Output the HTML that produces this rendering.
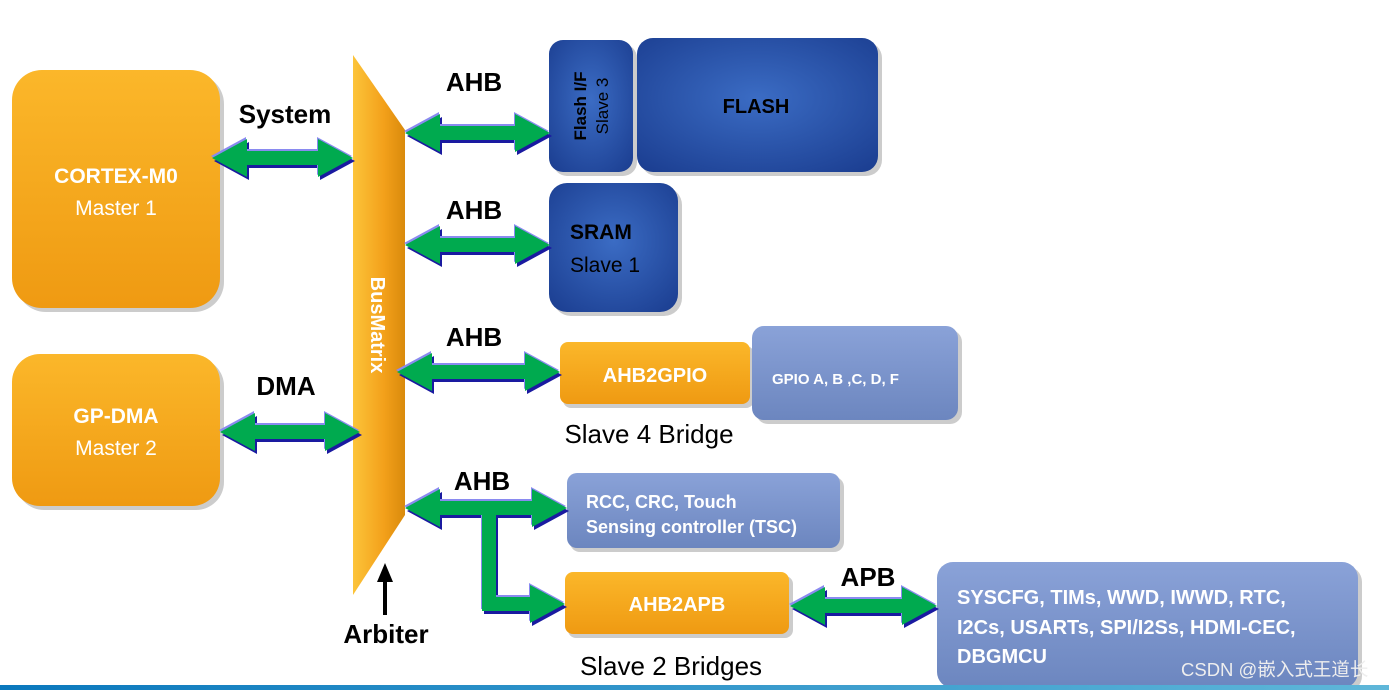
<!DOCTYPE html>
<html><head><meta charset="utf-8"><style>
body{margin:0;background:#fff;width:1389px;height:690px;overflow:hidden}
svg{display:block}
</style></head><body>
<svg width="1389" height="690" viewBox="0 0 1389 690" xmlns="http://www.w3.org/2000/svg">
<defs>
<linearGradient id="og" x1="0" y1="0" x2="0" y2="1"><stop offset="0" stop-color="#fbb72a"/><stop offset="1" stop-color="#ef9a12"/></linearGradient>
<linearGradient id="bm" x1="0" y1="0" x2="1" y2="0"><stop offset="0" stop-color="#fcc43a"/><stop offset="0.6" stop-color="#f3a01a"/><stop offset="1" stop-color="#d98a0c"/></linearGradient>
<radialGradient id="bg" cx="0.5" cy="0.45" r="0.7"><stop offset="0" stop-color="#3b6cc4"/><stop offset="1" stop-color="#1c3f92"/></radialGradient>
<linearGradient id="lb" x1="0" y1="0" x2="0" y2="1"><stop offset="0" stop-color="#8aa2d8"/><stop offset="1" stop-color="#6c86bf"/></linearGradient>
<linearGradient id="bar" x1="0" y1="0" x2="1" y2="0"><stop offset="0" stop-color="#0a78bd"/><stop offset="1" stop-color="#5fb7d9"/></linearGradient>
<g id="arr">
<path d="M212,158 L247,139 L247,151 L318,151 L318,139 L353,158 L318,177 L318,165 L247,165 L247,177 Z"/>
<path d="M405,133 L440,114 L440,126 L515,126 L515,114 L550,133 L515,152 L515,140 L440,140 L440,152 Z"/>
<path d="M405,245 L440,226 L440,238 L515,238 L515,226 L550,245 L515,264 L515,252 L440,252 L440,264 Z"/>
<path d="M397,372 L432,353 L432,365 L525,365 L525,353 L560,372 L525,391 L525,379 L432,379 L432,391 Z"/>
<path d="M220,432 L255,413 L255,425 L325,425 L325,413 L360,432 L325,451 L325,439 L255,439 L255,451 Z"/>
<path d="M405,508 L440,489 L440,501 L532,501 L532,489 L567,508 L532,527 L532,515 L440,515 L440,527 Z"/>
<rect x="482" y="512" width="14" height="99"/>
<path d="M482,597 L530,597 L530,585 L565,604 L530,623 L530,611 L482,611 Z"/>
<path d="M790,606 L825,587 L825,599 L902,599 L902,587 L937,606 L902,625 L902,613 L825,613 L825,625 Z"/>
</g>
</defs>

<g fill="#9a9a9a" opacity="0.5">
<rect x="16" y="74" width="208" height="238" rx="30"/>
<rect x="16" y="358" width="208" height="152" rx="28"/>
<rect x="553" y="44" width="84" height="132" rx="14"/>
<rect x="641" y="42" width="241" height="134" rx="16"/>
<rect x="553" y="187" width="129" height="129" rx="18"/>
<rect x="563" y="346" width="191" height="62" rx="8"/>
<rect x="756" y="330" width="206" height="94" rx="12"/>
<rect x="570" y="477" width="274" height="75" rx="10"/>
<rect x="568" y="576" width="225" height="62" rx="8"/>
<rect x="941" y="566" width="421" height="126" rx="16"/>
</g>

<rect x="12" y="70" width="208" height="238" rx="30" fill="url(#og)"/>
<rect x="12" y="354" width="208" height="152" rx="28" fill="url(#og)"/>
<polygon points="353,55 405,130 405,515 353,595" fill="url(#bm)"/>
<rect x="549" y="40" width="84" height="132" rx="14" fill="url(#bg)"/>
<rect x="637" y="38" width="241" height="134" rx="16" fill="url(#bg)"/>
<rect x="549" y="183" width="129" height="129" rx="18" fill="url(#bg)"/>
<rect x="560" y="342" width="190" height="62" rx="8" fill="url(#og)"/>
<rect x="752" y="326" width="206" height="94" rx="12" fill="url(#lb)"/>
<rect x="567" y="473" width="273" height="75" rx="10" fill="url(#lb)"/>
<rect x="565" y="572" width="224" height="62" rx="8" fill="url(#og)"/>
<rect x="937" y="562" width="421" height="126" rx="16" fill="url(#lb)"/>

<use href="#arr" fill="#1a1aa0" transform="translate(2,3)"/>
<use href="#arr" fill="#8a8af0" transform="translate(-1,-2)"/>
<use href="#arr" fill="#00aa4f"/>

<rect x="383" y="580" width="4" height="35" fill="#000"/>
<polygon points="377,582 385,563 393,582" fill="#000"/>

<g font-family="Liberation Sans, sans-serif" font-weight="bold" fill="#000" font-size="26">
<text x="285" y="123" text-anchor="middle">System</text>
<text x="474" y="91" text-anchor="middle">AHB</text>
<text x="474" y="219" text-anchor="middle">AHB</text>
<text x="474" y="346" text-anchor="middle">AHB</text>
<text x="482" y="490" text-anchor="middle">AHB</text>
<text x="286" y="395" text-anchor="middle">DMA</text>
<text x="868" y="586" text-anchor="middle">APB</text>
<text x="386" y="643" text-anchor="middle">Arbiter</text>
</g>
<g font-family="Liberation Sans, sans-serif" fill="#000" font-size="26">
<text x="649" y="443" text-anchor="middle">Slave 4 Bridge</text>
<text x="671" y="675" text-anchor="middle">Slave 2 Bridges</text>
</g>
<g font-family="Liberation Sans, sans-serif" fill="#fff">
<text x="116" y="183" text-anchor="middle" font-size="21" font-weight="bold">CORTEX-M0</text>
<text x="116" y="215" text-anchor="middle" font-size="21">Master 1</text>
<text x="116" y="423" text-anchor="middle" font-size="21" font-weight="bold">GP-DMA</text>
<text x="116" y="455" text-anchor="middle" font-size="21">Master 2</text>
<text transform="translate(371,325) rotate(90)" text-anchor="middle" font-size="20" font-weight="bold">BusMatrix</text>
<text x="756" y="113" text-anchor="middle" font-size="20" font-weight="bold" fill="#000">FLASH</text>
<text transform="translate(586,106) rotate(-90)" text-anchor="middle" font-size="17" font-weight="bold" fill="#000">Flash I/F</text>
<text transform="translate(608,106) rotate(-90)" text-anchor="middle" font-size="17" fill="#000">Slave 3</text>
<text x="570" y="239" font-size="21" font-weight="bold" fill="#000">SRAM</text>
<text x="570" y="272" font-size="21" fill="#000">Slave 1</text>
<text x="655" y="382" text-anchor="middle" font-size="20" font-weight="bold">AHB2GPIO</text>
<text x="772" y="384" font-size="15" font-weight="bold">GPIO A, B ,C, D, F</text>
<text x="586" y="508" font-size="18" font-weight="bold">RCC, CRC, Touch</text>
<text x="586" y="533" font-size="18" font-weight="bold">Sensing controller (TSC)</text>
<text x="677" y="611" text-anchor="middle" font-size="20" font-weight="bold">AHB2APB</text>
<text x="957" y="604" font-size="20" font-weight="bold">SYSCFG, TIMs, WWD, IWWD, RTC,</text>
<text x="957" y="634" font-size="20" font-weight="bold">I2Cs, USARTs, SPI/I2Ss, HDMI-CEC,</text>
<text x="957" y="663" font-size="20" font-weight="bold">DBGMCU</text>
</g>
<text x="1181" y="676" font-family="Liberation Sans, Noto Sans CJK SC, sans-serif" font-size="18.5" fill="#eeeeee">CSDN @嵌入式王道长</text>
<rect x="0" y="685" width="1389" height="5" fill="url(#bar)"/>
</svg>
</body></html>
